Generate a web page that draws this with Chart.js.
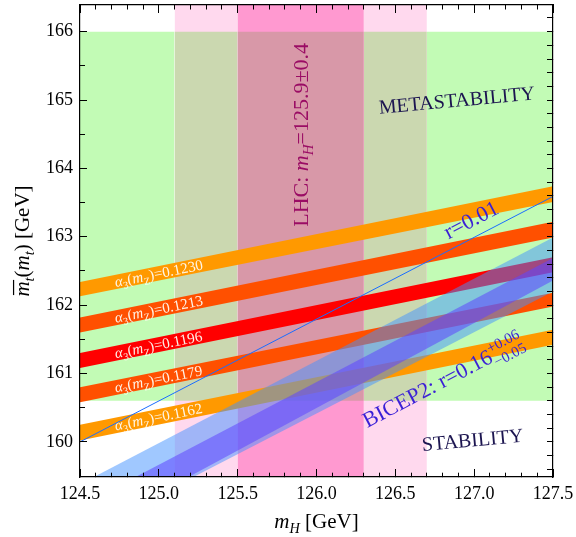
<!DOCTYPE html>
<html>
<head>
<meta charset="utf-8">
<script src="https://cdn.jsdelivr.net/npm/chart.js@4.4.0/dist/chart.umd.min.js"></script>
<style>
html,body{margin:0;padding:0;background:#fff;}
#wrap{width:576px;height:537px;}
</style>
</head>
<body>
<div id="wrap"><canvas id="c" width="576" height="537"></canvas></div>
<script>
// ---- values ----
const xRange = [124.5, 127.5];
const yRange = [159.486, 166.39];
const xTickValues = [124.5, 125.0, 125.5, 126.0, 126.5, 127.0, 127.5];
const yTickValues = [160, 161, 162, 163, 164, 165, 166];

// LHC m_H bands and metastability region
const lhcOuter = [125.1, 126.7];
const lhcInner = [125.5, 126.3];
const metaRegion = [160.6, 166.0];

// alpha_3(mZ) bands, edges at x = 124.5 and x = 127.5
const alphaLabels    = ['0.1230', '0.1213', '0.1196', '0.1179', '0.1162'];
const alphaLowLeft   = [162.13, 161.60, 161.08, 160.58, 160.02];
const alphaHighLeft  = [162.34, 161.82, 161.30, 160.80, 160.25];
const alphaLowRight  = [163.51, 162.99, 162.48, 161.98, 161.42];
const alphaHighRight = [163.74, 163.22, 162.70, 162.18, 161.64];

// BICEP2 bands, edges at x = 124.5 and x = 127.5
const bicepWideLow  = [158.63, 162.20];
const bicepWideHigh = [159.38, 162.99];
const bicepCoreLow  = [158.63, 162.36];
const bicepCoreHigh = [159.06, 162.69];

// r = 0.01 line
const rLine = [160.00, 163.59];

// ---- styles ----
const alphaColors = ['#ff9900', '#ff5000', '#ff0000', '#ff5000', '#ff9900'];
const serif = '"Liberation Serif", "DejaVu Serif", serif';

function edge(vals) {
  return [{x: xRange[0], y: vals[0]}, {x: xRange[1], y: vals[1]}];
}
function box(x0, x1, y0, y1, color) {
  return {data: [{x: x0, y: y1}, {x: x1, y: y1}], fill: {value: y0}, backgroundColor: color,
    borderColor: 'transparent', borderWidth: 0, pointRadius: 0};
}
function plainEdge(vals) {
  return {data: edge(vals), borderWidth: 0, borderColor: 'transparent', pointRadius: 0, fill: false};
}
function bandTop(vals, color) {
  return {data: edge(vals), borderWidth: 0, borderColor: 'transparent', pointRadius: 0, fill: '-1', backgroundColor: color};
}

let datasets = [];
// pink LHC bands (full height)
datasets.push(box(lhcOuter[0], lhcOuter[1], 150, 170, '#ffd9ee'));
datasets.push(box(lhcInner[0], lhcInner[1], 150, 170, '#ff99d0'));
// green metastability region, tinted where it meets the pink bands
datasets.push(box(xRange[0], lhcOuter[0], metaRegion[0], metaRegion[1], '#c2fbb5'));
datasets.push(box(lhcOuter[0], lhcInner[0], metaRegion[0], metaRegion[1], '#cbd8b0'));
datasets.push(box(lhcInner[0], lhcInner[1], metaRegion[0], metaRegion[1], '#d898a8'));
datasets.push(box(lhcInner[1], lhcOuter[1], metaRegion[0], metaRegion[1], '#cbd8b0'));
datasets.push(box(lhcOuter[1], xRange[1], metaRegion[0], metaRegion[1], '#c2fbb5'));
// alpha_3 bands
alphaLabels.forEach((lab, i) => {
  datasets.push(plainEdge([alphaLowLeft[i], alphaLowRight[i]]));
  datasets.push(bandTop([alphaHighLeft[i], alphaHighRight[i]], alphaColors[i]));
});
// BICEP2 bands
datasets.push(plainEdge(bicepWideLow));
datasets.push(bandTop(bicepWideHigh, 'rgba(65,145,255,0.5)'));
datasets.push(plainEdge(bicepCoreLow));
datasets.push(bandTop(bicepCoreHigh, 'rgba(95,70,255,0.55)'));
// r = 0.01 line
datasets.push({data: edge(rLine), borderColor: '#1a6dff', borderWidth: 1, pointRadius: 0, fill: false});

// first dataset is drawn last, so reverse the stacking with order
datasets.forEach((d, i) => { d.order = datasets.length - i; });

// tick positions for the four framed sides
function steps(from, to, step) {
  const out = [];
  for (let v = from; v <= to + 1e-9; v += step) out.push({value: Math.round(v * 100) / 100});
  return out;
}
const near = (v, list) => list.some(t => Math.abs(t - v) < 1e-6);
const isHalf = v => Math.abs(v * 2 - Math.round(v * 2)) < 1e-6;
const isWhole = v => Math.abs(v - Math.round(v)) < 1e-6;

// ---- rich text helpers ----
function fontOf(p, size) {
  return (p.it ? 'italic ' : '') + size.toFixed(1) + 'px ' + serif;
}
function partWidth(ctx, p, size) {
  if (p.stack) {
    ctx.font = fontOf(p, size * 0.68);
    return Math.max(ctx.measureText(p.stack[0]).width, ctx.measureText(p.stack[1]).width);
  }
  ctx.font = fontOf(p, (p.sub || p.sup) ? size * 0.68 : size);
  return ctx.measureText(p.t).width;
}
function drawRich(ctx, parts, size, cx, cy, angle, color, align) {
  ctx.save();
  ctx.translate(cx, cy);
  ctx.rotate(angle);
  ctx.fillStyle = color;
  ctx.textBaseline = 'alphabetic';
  ctx.textAlign = 'left';
  let total = 0;
  parts.forEach(p => { total += partWidth(ctx, p, size); });
  let x = align === 'left' ? 0 : -total / 2;
  const base = size * 0.33;
  parts.forEach(p => {
    const w = partWidth(ctx, p, size);
    if (p.stack) {
      ctx.font = fontOf(p, size * 0.68);
      ctx.fillText(p.stack[0], x, base - size * 0.42);
      ctx.fillText(p.stack[1], x, base + size * 0.28);
    } else {
      const s = (p.sub || p.sup) ? size * 0.68 : size;
      ctx.font = fontOf(p, s);
      const dy = p.sub ? size * 0.25 : (p.sup ? -size * 0.4 : 0);
      ctx.fillText(p.t, x, base + dy);
      if (p.over) ctx.fillRect(x + 1.5, base - size * 0.76, w, 1.2);
    }
    x += w;
  });
  ctx.restore();
}

const decorations = {
  id: 'decorations',
  afterDatasetsDraw(chart) {
    const ctx = chart.ctx;
    const xs = chart.scales.x, ys = chart.scales.y;
    const px = v => xs.getPixelForValue(v), py = v => ys.getPixelForValue(v);
    const lineAngle = (l, r) => Math.atan2(py(r) - py(l), px(xRange[1]) - px(xRange[0]));

    // alpha_3 labels along each band
    const labX = 124.72;
    const t = (labX - xRange[0]) / (xRange[1] - xRange[0]);
    alphaLabels.forEach((lab, i) => {
      const lo = alphaLowLeft[i] + t * (alphaLowRight[i] - alphaLowLeft[i]);
      const hi = alphaHighLeft[i] + t * (alphaHighRight[i] - alphaHighLeft[i]);
      const ang = lineAngle((alphaLowLeft[i] + alphaHighLeft[i]) / 2, (alphaLowRight[i] + alphaHighRight[i]) / 2);
      drawRich(ctx, [{t: 'α', it: true}, {t: '3', sub: true}, {t: '('}, {t: 'm', it: true}, {t: 'Z', sub: true}, {t: ')=' + lab}],
        15, px(labX), py((lo + hi) / 2), ang, 'rgba(255,250,240,0.95)', 'left');
    });

    drawRich(ctx, [{t: 'LHC: '}, {t: 'm', it: true}, {t: 'H', it: true, sub: true}, {t: '=125.9±0.4'}],
      22, px(125.9), py(164.49), -Math.PI / 2, '#9a0c64');

    drawRich(ctx, [{t: 'METASTABILITY'}], 20, px(126.89), py(165.0), -5.3 * Math.PI / 180, '#1c1550');
    drawRich(ctx, [{t: 'STABILITY'}], 20, px(126.99), py(160.03), -5.3 * Math.PI / 180, '#1c1550');

    drawRich(ctx, [{t: 'r=0.01'}], 22, px(126.98), py(163.25), lineAngle(rLine[0], rLine[1]), '#3a1fd6');
    drawRich(ctx, [{t: 'BICEP2: r=0.16'}, {stack: ['+0.06', '−0.05']}], 22, px(126.80), py(160.90),
      lineAngle(bicepCoreHigh[0], bicepCoreHigh[1]), '#3a1fd6');
  },
  afterDraw(chart) {
    const ctx = chart.ctx;
    const a = chart.chartArea;
    drawRich(ctx, [{t: 'm', it: true}, {t: 'H', it: true, sub: true}, {t: ' [GeV]'}],
      21, (a.left + a.right) / 2, a.bottom + 44, 0, '#000');
    drawRich(ctx, [{t: 'm', it: true, over: true}, {t: 't', it: true, sub: true}, {t: '('}, {t: 'm', it: true}, {t: 't', it: true, sub: true}, {t: ') [GeV]'}],
      21, 22, (a.top + a.bottom) / 2, -Math.PI / 2, '#000');
  }
};

const frameBorder = {display: true, color: '#000', width: 1.2, z: 1};

new Chart(document.getElementById('c'), {
  type: 'line',
  data: {datasets: datasets},
  options: {
    responsive: false,
    animation: false,
    devicePixelRatio: 1,
    layout: {padding: {top: 5, right: 23, left: 0, bottom: 0}},
    plugins: {legend: {display: false}, tooltip: {enabled: false}},
    scales: {
      x: {
        type: 'linear', position: 'bottom',
        min: xRange[0], max: xRange[1],
        border: frameBorder,
        grid: {
          display: true, drawOnChartArea: false, drawTicks: true, z: 1,
          tickLength: -8, tickColor: '#000', tickWidth: 1,
          // minor ticks shortened with a dash, drawn from the frame inwards
          tickBorderDash: c => isHalf(c.tick.value) ? [] : [4.5, 40]
        },
        afterBuildTicks: s => { s.ticks = steps(xRange[0], xRange[1], 0.1); },
        afterFit: s => { s.height = 60; s.paddingLeft = 0; s.paddingRight = 0; },
        ticks: {
          padding: 14,
          autoSkip: false,
          color: '#000',
          font: {family: serif, size: 18},
          maxRotation: 0,
          callback: v => near(v, xTickValues) ? Number(v).toFixed(1) : ''
        }
      },
      xTop: {
        type: 'linear', position: 'top', axis: 'x',
        min: xRange[0], max: xRange[1],
        border: frameBorder,
        grid: {
          display: true, drawOnChartArea: false, drawTicks: true, z: 1,
          tickLength: -8, tickColor: '#000', tickWidth: 1,
          tickBorderDash: c => isHalf(c.tick.value) ? [] : [0, 3.5, 4.5, 40]
        },
        afterBuildTicks: s => { s.ticks = steps(xRange[0], xRange[1], 0.1); },
        afterFit: s => { s.height = 0; s.paddingLeft = 0; s.paddingRight = 0; },
        ticks: {display: false, autoSkip: false}
      },
      y: {
        type: 'linear', position: 'left',
        min: yRange[0], max: yRange[1],
        border: frameBorder,
        grid: {
          display: true, drawOnChartArea: false, drawTicks: true, z: 1,
          tickLength: -7, tickColor: '#000', tickWidth: 1,
          tickBorderDash: c => isWhole(c.tick.value) ? [] : [0, 2, 5, 40]
        },
        afterBuildTicks: s => { s.ticks = steps(159.5, 166.0, 0.5); },
        afterFit: s => { s.width = 80; s.paddingTop = 0; s.paddingBottom = 0; },
        ticks: {
          padding: 14,
          autoSkip: false,
          color: '#000',
          font: {family: serif, size: 18},
          callback: v => near(v, yTickValues) ? String(v) : ''
        }
      },
      yRight: {
        type: 'linear', position: 'right', axis: 'y',
        min: yRange[0], max: yRange[1],
        border: frameBorder,
        grid: {
          display: true, drawOnChartArea: false, drawTicks: true, z: 1,
          tickLength: -6, tickColor: '#000', tickWidth: 1
        },
        afterBuildTicks: s => { s.ticks = steps(159.6, 166.2, 0.2); },
        afterFit: s => { s.width = 0; s.paddingTop = 0; s.paddingBottom = 0; },
        ticks: {display: false, autoSkip: false}
      }
    }
  },
  plugins: [decorations]
});
</script>
</body>
</html>
